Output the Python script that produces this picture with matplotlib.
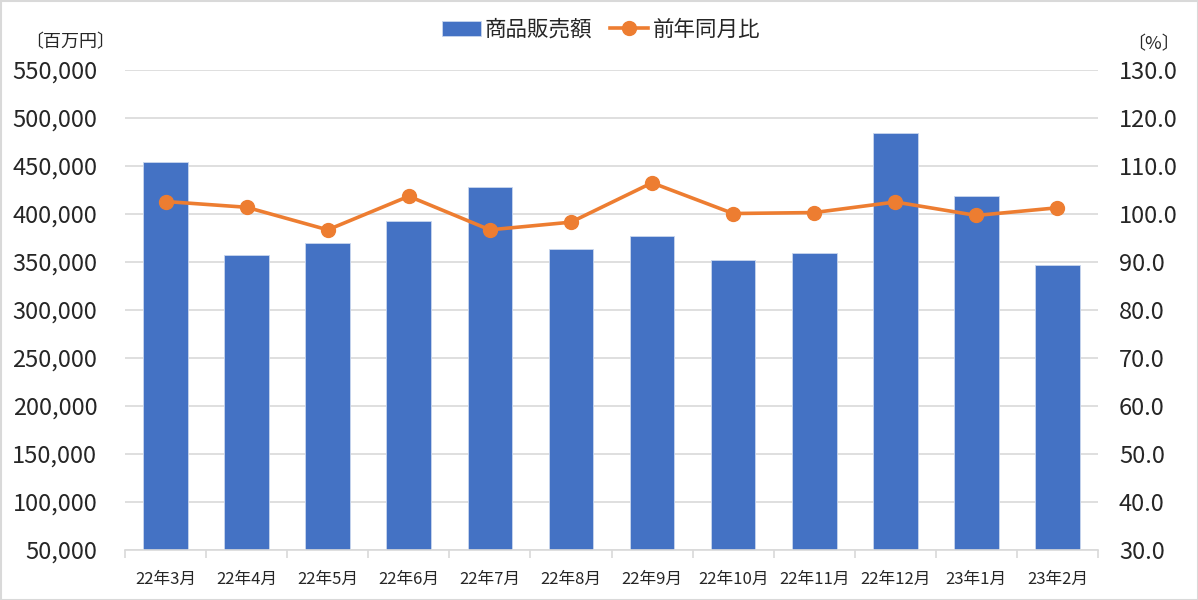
import numpy as np
import matplotlib.pyplot as plt
from matplotlib.patches import Rectangle

plt.rcParams['font.family'] = ['Noto Sans CJK JP', 'DejaVu Sans']

# data
months = ['22年3月', '22年4月', '22年5月', '22年6月', '22年7月', '22年8月',
          '22年9月', '22年10月', '22年11月', '22年12月', '23年1月', '23年2月']
sales = [453900, 357600, 370100, 392700, 427800, 363500,
         377400, 351800, 359000, 484700, 418400, 346500]
yoy = [102.6, 101.4, 96.7, 103.7, 96.7, 98.3,
       106.5, 100.1, 100.3, 102.5, 99.7, 101.3]

blue = '#4472c4'
orange = '#ed7d31'
grid = '#d9d9d9'
txt = '#262626'

fig = plt.figure(figsize=(11.98, 6), dpi=100)
ax = fig.add_axes([125 / 1198, 50 / 600, 973 / 1198, 480 / 600])
ax2 = ax.twinx()

x = np.arange(len(months))
bars = ax.bar(x, sales, width=0.55, bottom=0, color=blue, edgecolor='#c9d6ee',
              linewidth=0.6, zorder=2, label='商品販売額')
line, = ax2.plot(x, yoy, color=orange, lw=2.6, marker='o', markersize=10,
                 zorder=3, label='前年同月比')

ax.set_xlim(-0.5, len(months) - 0.5)
ax.set_ylim(50000, 550000)
ax.set_yticks(np.arange(50000, 550001, 50000))
ax.set_yticklabels([f'{v:,}' for v in range(50000, 550001, 50000)])
ax2.set_ylim(30, 130)
ax2.set_yticks(np.arange(30, 131, 10))
ax2.set_yticklabels([f'{v:.1f}' for v in range(30, 131, 10)])

ax.yaxis.grid(True, color=grid, lw=1.2, zorder=0)
ax.set_axisbelow(True)

for a in (ax, ax2):
    for s in a.spines.values():
        s.set_visible(False)
    a.tick_params(axis='y', length=0, labelsize=17, colors=txt)
ax.tick_params(axis='y', pad=20)
ax2.tick_params(axis='y', pad=15)

ax.spines['bottom'].set_visible(True)
ax.spines['bottom'].set_color(grid)
ax.spines['bottom'].set_linewidth(1.2)
ax.set_xticks(x)
ax.set_xticklabels(months)
ax.set_xticks(np.arange(-0.5, len(months)), minor=True)
ax.tick_params(axis='x', which='major', length=0, labelsize=12, colors=txt, pad=15)
ax.tick_params(axis='x', which='minor', length=6, color=grid, width=1.2)

fig.text(25 / 1198, 1 - 42 / 600, '〔百万円〕', fontsize=13, color=txt, va='center', ha='left')
fig.text(1180 / 1198, 1 - 44 / 600, '〔%〕', fontsize=13, color=txt, va='center', ha='right')

fig.legend(handles=[bars, line], loc='center', bbox_to_anchor=(601 / 1198, 1 - 30 / 600),
           ncol=2, frameon=False, fontsize=15.5, handlelength=1.8, columnspacing=0.8,
           handletextpad=0.2, labelcolor=txt)

fig.patches.append(Rectangle((0.5 / 1198, 0.5 / 600), 1 - 1 / 1198, 1 - 1 / 600,
                             transform=fig.transFigure, fill=False,
                             edgecolor=grid, lw=1.5))

fig.savefig('out.png', dpi=100)
